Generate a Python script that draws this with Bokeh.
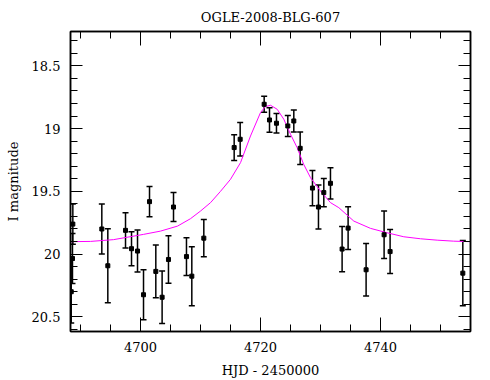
from bokeh.plotting import figure
from bokeh.models import (ColumnDataSource, Range1d, LinearAxis, SingleIntervalTicker,
                          Whisker, TeeHead, CustomJSTickFormatter)
from bokeh.embed import file_html
from bokeh.resources import INLINE

# ---- data ----
hjd = [4688.45, 4688.66, 4688.72, 4693.55, 4694.55, 4697.5, 4698.5, 4699.5, 4700.5,
       4701.5, 4702.55, 4703.6, 4704.66, 4705.5, 4707.66, 4708.55, 4710.55, 4715.61,
       4716.61, 4720.61, 4721.5, 4722.66, 4724.55, 4725.55, 4726.61, 4728.66, 4729.66,
       4730.55, 4731.66, 4733.6, 4734.6, 4737.6, 4740.6, 4741.6, 4753.72]
imag = [20.30, 20.035, 19.761, 19.80, 20.093, 19.811, 19.957, 19.976, 20.324,
        19.582, 20.138, 20.344, 20.043, 19.625, 20.02, 20.176, 19.873, 19.151,
        19.085, 18.806, 18.931, 18.957, 18.979, 18.939, 19.157, 19.474, 19.625,
        19.51, 19.436, 19.96, 19.793, 20.125, 19.846, 19.98, 20.152]
ierr = [0.25, 0.20, 0.16, 0.20, 0.295, 0.14, 0.136, 0.167, 0.20,
        0.12, 0.21, 0.21, 0.19, 0.115, 0.15, 0.235, 0.148, 0.103,
        0.133, 0.064, 0.098, 0.077, 0.084, 0.088, 0.13, 0.14, 0.176,
        0.112, 0.124, 0.18, 0.17, 0.21, 0.19, 0.175, 0.26]

model_hjd = [4688.33, 4691.67, 4695.5, 4700.5, 4703.33, 4706.17, 4708.33, 4710.0,
             4711.67, 4713.33, 4715.0, 4716.67, 4718.33, 4720.0, 4720.83, 4721.67,
             4722.78, 4723.88, 4725.0, 4726.1, 4727.2, 4728.33, 4730.0, 4731.67,
             4733.05, 4735.55, 4738.33, 4741.1, 4743.88, 4746.67, 4749.45, 4752.2, 4755.0]
model_mag = [19.901, 19.899, 19.885, 19.843, 19.817, 19.777, 19.718, 19.657,
             19.590, 19.500, 19.404, 19.271, 19.059, 18.872, 18.824, 18.814,
             18.846, 18.925, 19.045, 19.151, 19.285, 19.391, 19.498, 19.590,
             19.630, 19.737, 19.795, 19.830, 19.862, 19.878, 19.889, 19.897, 19.901]

title_text = "OGLE-2008-BLG-607"
x_label = "HJD - 2450000"
y_label = "I magnitude"

FONT = "DejaVu Serif"

src = ColumnDataSource(dict(
    x=hjd, y=imag,
    lo=[m - e for m, e in zip(imag, ierr)],
    hi=[m + e for m, e in zip(imag, ierr)],
))
msrc = ColumnDataSource(dict(x=model_hjd, y=model_mag))

p = figure(width=490, height=380, output_backend="svg", toolbar_location=None,
           x_range=Range1d(4688.33, 4755.0), y_range=Range1d(20.617, 18.226),
           x_axis_location=None, y_axis_location=None,
           min_border_left=70, min_border_right=20, min_border_top=0, min_border_bottom=48)
p.grid.visible = False
p.background_fill_color = "white"
p.border_fill_color = "white"
p.outline_line_color = "black"
p.outline_line_width = 1.5

p.title.text = title_text
p.title.align = "center"
p.title.text_font = FONT
p.title.text_font_size = "13px"
p.title.text_font_style = "normal"
p.title.text_color = "black"
p.title.offset = 0
p.title.standoff = 14

blank = CustomJSTickFormatter(code="return '';")


def style(ax, major_len, show_labels):
    ax.major_tick_in = major_len
    ax.major_tick_out = 0
    ax.minor_tick_in = 7
    ax.minor_tick_out = 0
    ax.axis_line_color = "black"
    ax.axis_line_width = 1.5
    ax.major_tick_line_color = "black"
    ax.minor_tick_line_color = "black"
    ax.major_tick_line_width = 1
    ax.minor_tick_line_width = 1
    ax.major_label_text_font = FONT
    ax.major_label_text_font_size = "13px"
    ax.major_label_text_color = "black"
    ax.axis_label_text_font = FONT
    ax.axis_label_text_font_size = "13px"
    ax.axis_label_text_font_style = "normal"
    ax.axis_label_text_color = "black"
    if not show_labels:
        ax.formatter = blank
        ax.major_label_standoff = 0


xt = SingleIntervalTicker(interval=20, num_minor_ticks=4)
yt = SingleIntervalTicker(interval=0.5, num_minor_ticks=5)
yfmt = CustomJSTickFormatter(code="return String(Number(tick.toFixed(1)));")

xb = LinearAxis(ticker=xt, axis_label=x_label)
style(xb, 14, True)
xb.major_label_standoff = 10
xb.axis_label_standoff = 8
p.add_layout(xb, "below")

xa = LinearAxis(ticker=xt)
style(xa, 14, False)
p.add_layout(xa, "above")

yl = LinearAxis(ticker=yt, formatter=yfmt, axis_label=y_label)
style(yl, 12, True)
yl.major_label_standoff = 10
yl.axis_label_standoff = 8
yl.axis_label_text_baseline = "bottom"
p.add_layout(yl, "left")

yr = LinearAxis(ticker=yt)
style(yr, 12, False)
p.add_layout(yr, "right")

# model curve
p.line("x", "y", source=msrc, line_color="#ff00ff", line_width=1)

# error bars
wh = Whisker(source=src, base="x", lower="lo", upper="hi", dimension="height",
             line_color="black", line_width=1.5,
             upper_head=TeeHead(size=6, line_color="black", line_width=1.5),
             lower_head=TeeHead(size=6, line_color="black", line_width=1.5))
p.add_layout(wh)

p.scatter("x", "y", source=src, marker="square", size=4, fill_color="black",
          line_color="black")

open("out.html", "w").write(file_html(p, INLINE))
